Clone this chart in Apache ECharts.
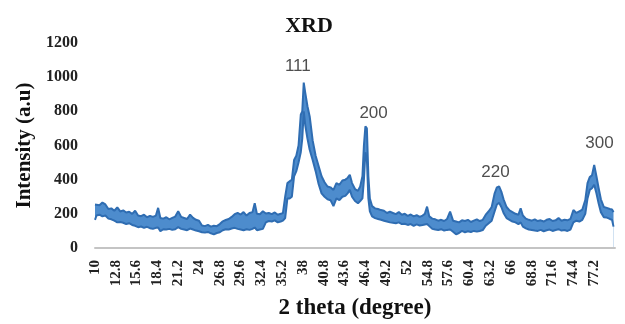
<!DOCTYPE html>
<html><head><meta charset="utf-8">
<script src="https://cdn.jsdelivr.net/npm/echarts@6/dist/echarts.min.js"></script>
<style>html,body{margin:0;padding:0;background:#fff}#c{width:625px;height:324px}</style>
</head><body><div id="c"></div>
<script>
// 2θ positions (degrees)
const twoTheta = [
  10.0, 10.2, 10.6, 11.0, 11.4, 11.8, 12.2, 12.6, 13.0, 13.4,
  13.8, 14.2, 14.6, 15.0, 15.4, 15.8, 16.2, 16.6, 17.0, 17.4,
  17.8, 18.2, 18.5, 18.8, 19.2, 19.6, 20.0, 20.4, 20.8, 21.2,
  21.6, 22.0, 22.4, 22.8, 23.2, 23.6, 24.0, 24.4, 24.8, 25.2,
  25.6, 26.0, 26.4, 26.8, 27.2, 27.6, 28.0, 28.4, 28.8, 29.2,
  29.6, 30.0, 30.4, 30.8, 31.2, 31.5, 31.8, 32.2, 32.6, 33.0,
  33.4, 33.8, 34.2, 34.6, 35.0, 35.3, 35.6, 35.9, 36.2, 36.5,
  36.8, 37.1, 37.4, 37.7, 37.9, 38.1, 38.3, 38.6, 38.9, 39.3,
  39.7, 40.1, 40.5, 40.9, 41.3, 41.7, 42.1, 42.5, 42.9, 43.3,
  43.7, 44.0, 44.3, 44.6, 45.0, 45.4, 45.7, 46.0, 46.2, 46.4,
  46.6, 46.8, 47.0, 47.3, 47.7, 48.1, 48.5, 48.9, 49.3, 49.7,
  50.1, 50.5, 50.9, 51.3, 51.7, 52.1, 52.5, 52.9, 53.3, 53.7,
  54.1, 54.4, 54.7, 55.0, 55.4, 55.8, 56.2, 56.6, 57.0, 57.4,
  57.8, 58.2, 58.6, 59.0, 59.4, 59.8, 60.2, 60.6, 61.0, 61.4,
  61.8, 62.2, 62.6, 63.0, 63.4, 63.8, 64.1, 64.4, 64.7, 65.0,
  65.4, 65.8, 66.2, 66.6, 67.0, 67.3, 67.6, 68.0, 68.4, 68.8,
  69.2, 69.6, 70.0, 70.4, 70.8, 71.2, 71.6, 72.0, 72.4, 72.8,
  73.2, 73.6, 74.0, 74.4, 74.8, 75.2, 75.6, 76.0, 76.3, 76.6,
  76.9, 77.2, 77.5, 77.8, 78.1, 78.5, 78.9, 79.3, 79.6, 79.8
];
// upper edge of the noisy trace (a.u)
const intensityHigh = [
  255, 262, 250, 266, 255, 228, 232, 218, 238, 214,
  220, 208, 212, 200, 218, 190, 186, 195, 180, 188,
  182, 190, 235, 176, 172, 180, 168, 176, 184, 215,
  182, 176, 170, 195, 176, 165, 160, 132, 128, 135,
  125, 130, 128, 140, 156, 164, 170, 182, 198, 205,
  196, 210, 190, 205, 210, 262, 200, 198, 215, 202,
  205, 198, 208, 195, 200, 205, 300, 380, 390, 400,
  515, 540, 600, 780, 800, 968, 910, 830, 770, 630,
  540, 480, 420, 385, 360, 355, 340, 380, 370, 395,
  400, 410, 428, 380, 345, 335, 360, 420, 600, 712,
  700, 420, 290, 245, 232, 228, 222, 218, 205, 212,
  205, 198, 210, 195, 200, 188, 196, 185, 192, 182,
  190, 200, 242, 185, 172, 168, 160, 165, 158, 170,
  213, 160, 155, 150, 162, 158, 165, 152, 160, 168,
  158, 165, 195, 215, 240, 320, 355, 360, 330, 285,
  240, 220, 210, 200, 195, 232, 190, 172, 165, 160,
  168, 158, 162, 155, 165, 170, 158, 162, 175, 160,
  165, 162, 170, 222, 205, 215, 225, 280, 380, 415,
  425, 486, 420, 350, 285, 240, 235, 228, 225, 210
];
// lower edge of the noisy trace (a.u)
const intensityLow = [
  165, 190, 195, 185, 190, 172, 168, 160, 150, 152,
  148, 140, 145, 135, 130, 122, 126, 118, 124, 116,
  112, 118, 120, 98, 110, 108, 112, 106, 110, 122,
  112, 108, 104, 114, 108, 102, 98, 92, 90, 94,
  86, 80, 88, 92, 104, 110, 108, 114, 118, 112,
  108, 104, 110, 106, 112, 120, 104, 108, 112, 150,
  158, 155, 162, 150, 155, 160, 175, 290, 290, 300,
  420, 450, 500, 560, 640, 800, 720, 640, 575, 515,
  450, 375, 320, 300, 285, 280, 245, 290, 280, 300,
  305, 320, 340, 300, 275, 262, 275, 290, 400, 560,
  520, 290, 215, 185, 175, 170, 165, 160, 155, 150,
  148, 145, 150, 140, 142, 135, 140, 130, 138, 132,
  135, 138, 140, 128, 112, 108, 105, 110, 102, 106,
  108, 95, 80, 88, 100, 92, 98, 94, 100, 96,
  100, 105, 130, 145, 160, 215, 255, 265, 240, 205,
  175, 165, 155, 150, 140, 150, 125, 115, 108, 105,
  102, 100, 106, 98, 104, 108, 100, 105, 110, 102,
  105, 100, 108, 150, 160, 155, 165, 200, 290, 340,
  350, 370, 320, 260, 210, 180, 178, 170, 165, 125
];
const xTickLabels = [10, 12.8, 15.6, 18.4, 21.2, 24, 26.8, 29.6, 32.4, 35.2, 38, 40.8, 43.6,
  46.4, 49.2, 52, 54.8, 57.6, 60.4, 63.2, 66, 68.8, 71.6, 74.4, 77.2];
const peakNames = ['111', '200', '220', '300'];
const peakX = [37.3, 47.5, 63.9, 77.9];
const peakY = [1065, 790, 445, 615];

const serif = '"Liberation Serif", "Times New Roman", serif';
const blue = '#2f6db2';
const fillBlue = '#4d8ccd';

const hi = twoTheta.map((x, i) => [x, intensityHigh[i]]);
const lo = twoTheta.map((x, i) => [x, intensityLow[i]]);
const peaks = peakNames.map((n, i) => ({ name: n, value: [peakX[i], peakY[i]] }));

const chart = echarts.init(document.getElementById('c'), null, { renderer: 'canvas' });
chart.setOption({
  animation: false,
  backgroundColor: '#fff',
  title: {
    text: 'XRD', left: 304, top: 10, textAlign: 'center',
    textStyle: { fontFamily: serif, fontWeight: 'bold', fontSize: 22, color: '#111' }
  },
  grid: { left: 95, right: 10, top: 43, bottom: 76, containLabel: false, outerBoundsMode: 'none' },
  xAxis: {
    type: 'value', min: 10, max: 80, z: 5,
    name: '2 theta (degree)', nameLocation: 'middle', nameGap: 49,
    nameTextStyle: { fontFamily: serif, fontWeight: 'bold', fontSize: 23, color: '#111' },
    axisLine: { show: true, onZero: false, lineStyle: { color: '#c4c4c4', width: 2 } },
    axisTick: { show: false },
    splitLine: { show: false },
    axisLabel: {
      customValues: xTickLabels, rotate: 90, margin: 12,
      fontFamily: serif, fontWeight: 'bold', fontSize: 15, color: '#222',
      formatter: v => String(v)
    }
  },
  yAxis: {
    type: 'value', min: 0, max: 1200, interval: 200,
    name: 'Intensity (a.u)', nameLocation: 'middle', nameGap: 58,
    nameTextStyle: { fontFamily: serif, fontWeight: 'bold', fontSize: 21, color: '#111' },
    axisLine: { show: false }, axisTick: { show: false }, splitLine: { show: false },
    axisLabel: {
      margin: 17, fontFamily: serif, fontWeight: 'bold', fontSize: 16, color: '#222',
      formatter: v => String(v)
    }
  },
  series: [
    {
      type: 'line', data: hi, symbol: 'none', z: 2,
      lineStyle: { color: blue, width: 2 },
      areaStyle: { color: fillBlue, opacity: 1 }
    },
    {
      type: 'line', data: lo, symbol: 'none', z: 3,
      lineStyle: { color: blue, width: 2 },
      areaStyle: { color: '#ffffff', opacity: 1 }
    },
    {
      type: 'scatter', data: peaks, symbolSize: 0, z: 6,
      label: {
        show: true, position: 'inside', formatter: p => p.name,
        fontFamily: '"Liberation Sans", Arial, sans-serif', fontSize: 17, color: '#222'
      }
    }
  ]
});
</script></body></html>
